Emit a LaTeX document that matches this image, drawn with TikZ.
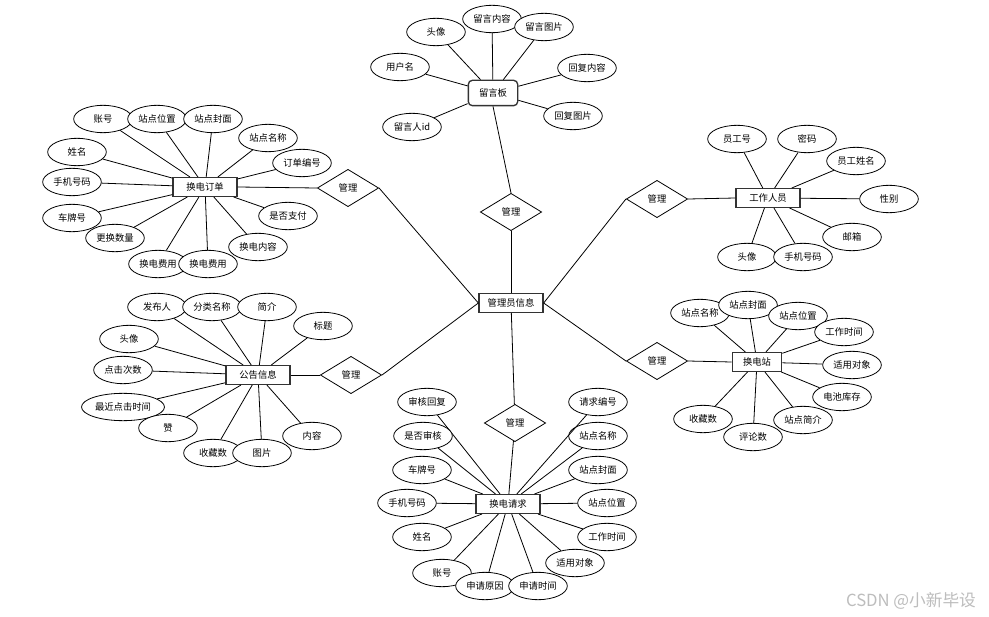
\documentclass[tikz,border=0pt]{standalone}
\usepackage{fontspec}
\setmainfont{Noto Sans CJK SC}
\usetikzlibrary{shapes.geometric}
\definecolor{Ink}{HTML}{000000}
\definecolor{Frame}{HTML}{333333}
\definecolor{Mark}{HTML}{BDBDBD}
\begin{document}
\begin{tikzpicture}[x=0.75pt,y=-0.75pt,every node/.style={font=\fontsize{7}{8}\selectfont,text=Ink},entity/.style={draw=Frame,line width=1pt,fill=white,minimum width=48pt,minimum height=14pt,inner sep=1pt},attr/.style={ellipse,draw=Ink,line width=0.6pt,fill=white,minimum width=44pt,minimum height=20.5pt,inner sep=1pt},rel/.style={diamond,draw=Ink,line width=0.6pt,fill=white,minimum width=46pt,minimum height=28pt,inner sep=0pt},link/.style={draw=Ink,line width=0.6pt}]
\useasboundingbox[fill=white] (0,0) rectangle (989,617);
% centre and the relationship diamonds
\node[entity] (admin) at (511,303) {管理员信息};
\node[entity,rounded corners=3pt,minimum width=37pt,minimum height=19pt] (board) at (493,93) {留言板};
\node[entity] (order) at (205,187) {换电订单};
\node[entity] (staff) at (768,198) {工作人员};
\node[entity,minimum width=37pt] (station) at (757,362) {换电站};
\node[entity] (notice) at (258,375) {公告信息};
\node[entity] (request) at (508,504) {换电请求};
\node[rel] (rboard) at (511,212) {管理};
\node[rel] (rorder) at (348,188) {管理};
\node[rel] (rstaff) at (657,199) {管理};
\node[rel] (rstation) at (657,361) {管理};
\node[rel] (rnotice) at (351,375) {管理};
\node[rel] (rrequest) at (515,423) {管理};
\draw[link] (board.south) -- (rboard.north);
\draw[link] (rboard) -- (admin);
\draw[link] (order.east) -- (rorder.west);
\draw[link] (rorder.east) -- (admin.west);
\draw[link] (staff.west) -- (rstaff.east);
\draw[link] (rstaff.west) -- (admin.east);
\draw[link] (station.west) -- (rstation.east);
\draw[link] (rstation.west) -- (admin.east);
\draw[link] (notice.east) -- (rnotice.west);
\draw[link] (rnotice.east) -- (admin.west);
\draw[link] (admin) -- (rrequest);
\draw[link] (rrequest) -- (request);
% attributes
\foreach \n/\x/\y/\t in {b1/436/32/头像,b2/492/19/留言内容,b3/544/27/留言图片,b4/400/67/用户名,b5/587/68/回复内容,b6/573/116/回复图片,b7/412/127/留言人id}{
\node[attr] (\n) at (\x,\y) {\t}; \draw[link] (\n) -- (board);}
\foreach \n/\x/\y/\t in {o1/103/119/账号,o2/157/119/站点位置,o3/213/119/站点封面,o4/268/138/站点名称,o5/302/163/订单编号,o6/77/152/姓名,o7/72/182/手机号码,o8/72/218/车牌号,o9/115/238/更换数量,o10/288/216/是否支付,o11/258/247/换电内容,o12/158/264/换电费用,o13/208/264/换电费用}{
\node[attr] (\n) at (\x,\y) {\t}; \draw[link] (\n) -- (order);}
\foreach \n/\x/\y/\t in {s1/737/139/员工号,s2/807/139/密码,s3/856/161/员工姓名,s4/889/199/性别,s5/852/237/邮箱,s6/747/257/头像,s7/803/257/手机号码}{
\node[attr] (\n) at (\x,\y) {\t}; \draw[link] (\n) -- (staff);}
\foreach \n/\x/\y/\t in {t1/700/313/站点名称,t2/748/305/站点封面,t3/798/316/站点位置,t4/844/332/工作时间,t5/852/365/适用对象,t6/842/397/电池库存,t7/753/437/评论数,t8/803/420/站点简介,t9/703/419/收藏数}{
\node[attr] (\n) at (\x,\y) {\t}; \draw[link] (\n) -- (station);}
\foreach \n/\x/\y/\t in {n1/157/307/发布人,n2/212/307/分类名称,n3/267/307/简介,n4/323/326/标题,n5/129/339/头像,n6/123/370/点击次数,n7/123/407/最近点击时间,n8/168/428/赞,n9/213/453/收藏数,n10/262/453/图片,n11/312/436/内容}{
\node[attr] (\n) at (\x,\y) {\t}; \draw[link] (\n) -- (notice);}
\foreach \n/\x/\y/\t in {q1/427/402/审核回复,q2/423/436/是否审核,q3/422/470/车牌号,q4/407/503/手机号码,q5/422/537/姓名,q6/442/573/账号,q7/485/586/申请原因,q8/538/586/申请时间,q9/575/563/适用对象,q10/607/537/工作时间,q11/607/503/站点位置,q12/598/470/站点封面,q13/598/436/站点名称,q14/598/402/请求编号}{
\node[attr] (\n) at (\x,\y) {\t}; \draw[link] (\n) -- (request);}
\node[text=Mark,font=\fontsize{12.5}{14}\selectfont] (mark) at (911,601) {CSDN @小新毕设};
\end{tikzpicture}
\end{document}
